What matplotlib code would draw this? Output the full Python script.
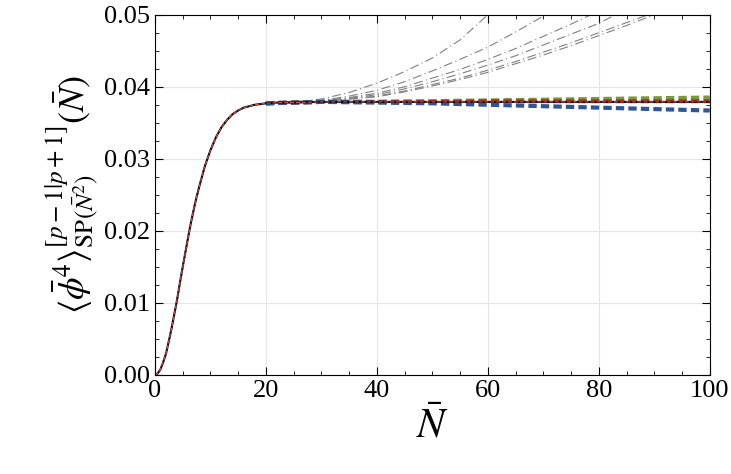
import matplotlib
matplotlib.use("Agg")
import matplotlib.pyplot as plt
from matplotlib.ticker import MultipleLocator

plt.rcParams['font.family'] = 'Liberation Serif'
plt.rcParams['mathtext.fontset'] = 'stix'

N_main = [0,0.5,1,1.5,2,2.5,3,3.5,4,4.5,5,5.5,6,6.5,7,7.5,8,9,10,11,12,13,14,15,16,17,18,19,20,22,25,30,40,50,60,70,80,90,100]
v_main = [0,.0002,.0008,.0018,.0030,.0047,.0065,.0085,.0105,.0128,.0150,.0171,.0192,.0212,.0230,.0247,.0262,.0290,.0312,.0330,.0344,.0354,.0362,.0367,.0371,.0373,.0375,.0376,.0377,.0378,.0378,.0379,.0379,.0379,.0379,.0379,.0379,.0379,.0379]

N_col = [20,30,40,50,60,70,80,90,100]
green = [.0377,.0379,.0379,.0380,.0381,.0382,.0383,.0384,.0385]
red   = [.0377,.0379,.0379,.0379,.0380,.0380,.0380,.0380,.0380]
blue  = [.0377,.0379,.0378,.0377,.0375,.0373,.0371,.0369,.0367]

N_gray = [20,25,30,35,40,45,50,55,60,65,70,75,80,85,90,95,100]
grays = [
    [.0378,.0379,.0383,.0392,.0405,.0421,.0440,.0465,.0500,.0535,.0570,.0610,.0650,.0700,.0740,.0790,.0840],
    [.0378,.0379,.0381,.0387,.0395,.0407,.0422,.0438,.0455,.0476,.0498,.0523,.0550,.0580,.0610,.0645,.0680],
    [.0378,.0379,.0380,.0385,.0391,.0400,.0412,.0424,.0438,.0453,.0470,.0487,.0505,.0527,.0550,.0575,.0600],
    [.0378,.0379,.0380,.0384,.0389,.0397,.0407,.0418,.0430,.0443,.0458,.0473,.0488,.0508,.0530,.0552,.0575],
    [.0378,.0379,.0380,.0383,.0387,.0394,.0403,.0412,.0423,.0435,.0448,.0461,.0475,.0489,.0503,.0520,.0540],
    [.0378,.0379,.0380,.0383,.0386,.0393,.0401,.0410,.0420,.0432,.0444,.0457,.0471,.0485,.0500,.0515,.0530],
]

fig = plt.figure(figsize=(7.31,4.74), dpi=100)
ax = fig.add_axes([0.212, 0.209, 0.759, 0.760])
for g in grays:
    ax.plot(N_gray, g, color='gray', lw=0.8, ls=(0,(8,3,1,3)))
ax.plot(N_col, green, color='#7a9a3a', lw=3, ls=(0,(2,1)))
ax.plot(N_col, red, color='#c0392b', lw=3, ls=(0,(2,1)))
ax.plot(N_col, blue, color='#2e5597', lw=3, ls=(0,(2,1)))
ax.plot(N_main, v_main, color='black', lw=1.5)
ax.plot(N_main, v_main, color='#e05050', lw=0.8, ls='--')
ax.set_xlim(0,100); ax.set_ylim(0,0.05)
ax.xaxis.set_major_locator(MultipleLocator(20)); ax.xaxis.set_minor_locator(MultipleLocator(5))
ax.yaxis.set_major_locator(MultipleLocator(0.01)); ax.yaxis.set_minor_locator(MultipleLocator(0.0025))
ax.yaxis.set_major_formatter(matplotlib.ticker.FormatStrFormatter('%.2f'))
ax.tick_params(which='both', direction='in', top=True, right=True, labelsize=19)
ax.tick_params(which='major', length=6); ax.tick_params(which='minor', length=3)
ax.grid(True, color='#e6e6e6', lw=0.8)
ax.set_xlabel(r'$\bar{N}$', fontsize=30)
ax.set_ylabel(r'$\langle\bar{\phi}^4\rangle^{[p-1|p+1]}_{\mathrm{SP}(\bar{N}^2)}(\bar{N})$', fontsize=26, labelpad=2)
fig.savefig('out.png')
